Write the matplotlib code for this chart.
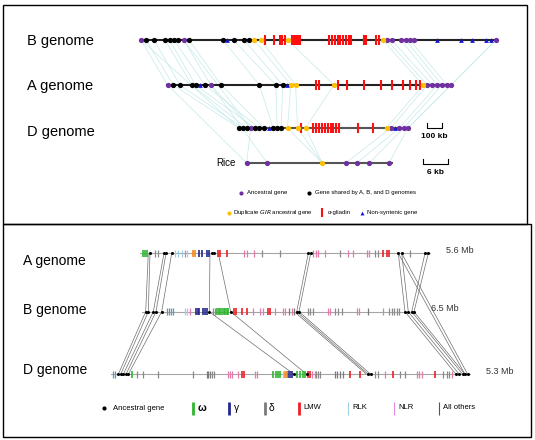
import matplotlib
matplotlib.use("Agg")
import matplotlib.pyplot as plt
from matplotlib.patches import Rectangle

plt.rcParams['font.family'] = ['Liberation Sans', 'DejaVu Sans']
NARROW = ['Liberation Sans Narrow', 'Liberation Sans', 'DejaVu Sans']

# ---------------- top panel: gene order along the three genomes + rice ----------------
# positions are read off the picture (in figure pixels along the track)
top_tracks = {
    'B': dict(y=40, span=(141, 497)),
    'A': dict(y=85, span=(167, 451)),
    'D': dict(y=128, span=(238, 408)),
    'Rice': dict(y=163, span=(246, 392)),
}

b_ancestral = [141, 183.5, 387, 391.5, 401, 405.5, 410, 414.4, 496]
b_shared = [146, 154, 165, 169.5, 174, 178.3, 189, 223, 233.5, 244, 248.5]
b_dup = [254.3, 260.5, 288, 382.5]
b_gliadin = [265, 274, 280, 282.3, 285, 291.5, 293.6, 295.8, 298, 300.3,
             329.4, 332.1, 334.9, 337.6, 340.3, 343.0, 345.7, 348.5, 351.2,
             363.5, 366.3, 376.3, 379.0]
b_nonsyn = [226.6, 437, 461, 472, 485.7, 491]

a_ancestral = [167.6, 210.9, 427.3, 432.4, 437.2, 442, 446.8, 451.3]
a_shared = [173.4, 179.9, 191.8, 195.6, 204.8, 221.2, 259.4, 275.8, 282.6]
a_dup = [290.8, 295.6, 334, 423.2]
a_gliadin = [316.1, 318.8, 337.5, 346.5, 363.8, 381.2, 392.3, 402.7, 409.8, 415.6, 419.8]
a_nonsyn = [200, 286.7]

d_ancestral = [250.6, 390.9, 399.4, 403.8, 408]
d_shared = [238.9, 243, 246.5, 254.7, 259.4, 264.2, 273.1, 277.2, 281.3]
d_dup = [287.5, 297.5, 305.5, 386.5]
d_gliadin = [301.2, 313.3, 316.2, 319.0, 321.9, 324.8, 327.7, 330.5, 333.4, 336.3, 339.2,
             357.7, 372.7]
d_nonsyn = [269, 395.3]

rice_ancestral = [246.7, 267.3, 345.7, 356.7, 369.3, 389]
rice_dup = [322.3]

# syntenic links (upper x, lower x)
links_ba = [(141, 167.6), (146, 173.4), (154, 179.9), (165, 191.8), (169.5, 195.6),
            (174, 204.8), (183.5, 210.9), (189, 221.2), (223, 259.4), (233.5, 275.8),
            (244, 282.6), (254.3, 290.8), (260.5, 295.6), (288, 334), (382.5, 423.2),
            (387, 427.3), (391.5, 432.4), (401, 437.2), (405.5, 442), (410, 446.8),
            (496, 451.3)]
links_ad = [(173.4, 238.9), (179.9, 243), (191.8, 246.5), (210.9, 250.6), (195.6, 254.7),
            (204.8, 259.4), (221.2, 264.2), (259.4, 273.1), (275.8, 277.2), (282.6, 281.3),
            (290.8, 287.5), (295.6, 297.5), (334, 305.5), (423.2, 386.5), (427.3, 390.9),
            (437.2, 399.4), (442, 403.8), (451.3, 408)]
links_bd = [(141, 238.9), (183.5, 250.6), (496, 408)]
links_drice = [(250.6, 246.7), (287.5, 322.3), (297.5, 322.3), (305.5, 322.3),
               (390.9, 345.7), (399.4, 356.7), (403.8, 369.3), (408, 389)]
links_arice = [(167.6, 246.7), (210.9, 267.3)]

# ---------------- bottom panel: gene classes along the three genomes ----------------
bot_tracks = {
    'A': dict(y=253.3, span=(140, 429.5), size='5.6 Mb'),
    'B': dict(y=311.7, span=(142, 415), size='6.5 Mb'),
    'D': dict(y=374.3, span=(111, 469.5), size='5.3 Mb'),
}

bot_genes = {
    'A': {
        'ancestral': [150, 164, 166, 171.7, 211.7, 214, 308.3, 310.7, 398.3, 401.7, 425, 428.3],
        'omega': [142.7, 145, 147.3],
        'gamma': [199, 202.3, 207.3, 209.3],
        'delta': [],
        'lmw': [218.3, 220, 226.7, 382.7, 387.3, 389.3],
        'rlk': [175, 178.3, 181.7, 187.3],
        'nlr': [184.5, 244, 246.5, 254, 313.3, 315.8, 318.3, 325, 348.3, 353.3, 366.7, 369.3],
        'other': [155, 158.3, 262, 280, 340, 375, 378.3, 410],
        'orange': [193.3, 195],
        'teal': [],
    },
    'B': {
        'ancestral': [145.7, 148.3, 153.3, 156, 161.7, 209.3, 230.7, 296.7, 299,
                      405, 408.3, 411.7, 414],
        'omega': [217.3, 218.9, 220.4, 222, 223.6, 225.1, 226.7, 228.3],
        'gamma': [196, 197.7, 199.3, 203.3, 205, 206.7],
        'delta': [289.3, 294.3, 368.3],
        'lmw': [234, 235.7, 241.7, 246.7, 268.3, 270],
        'rlk': [185, 187.3],
        'nlr': [190, 253.3, 260, 262.7, 275, 282.7, 285, 291.8, 328.3, 330, 356.7, 359.3, 383.3],
        'other': [213.3, 215, 308.3, 310, 313.3, 335, 338.3, 341.7, 389.3, 391.8, 394.3,
                  396.8, 399.3],
        'orange': [],
        'teal': [166.7, 169, 171, 173.3],
    },
    'D': {
        'ancestral': [118.3, 120.7, 123.3, 126, 128.3, 294, 306.7, 368.3, 370.7,
                      456, 459.3, 462.7, 465, 467.7],
        'omega': [131.7, 273.3, 275.7, 277.7, 280, 297.3, 300, 302.7, 305],
        'gamma': [288.3, 290, 291.7],
        'delta': [206.7, 208.3, 210, 335, 337.3, 340, 343.3],
        'lmw': [241.7, 244, 308.3, 310, 350, 360, 392.7, 435],
        'rlk': [282.7],
        'nlr': [228.3, 230, 231.7, 238.3, 255, 256.7, 312, 314.5, 385, 416.7, 419.3,
                421.7, 451.7],
        'other': [136.7, 143.3, 157.7, 192.7, 212.3, 214.3, 316, 318.3, 320, 375, 378.3,
                  400, 405, 443.3, 446.7, 449.3],
        'orange': [285, 286.7],
        'teal': [113.3, 115],
    },
}

bot_links_ab = [(148.3, 145.7), (150, 148.3), (164, 153.3), (166, 156), (171.7, 161.7),
                (210, 209.3), (218.3, 230.7), (308.3, 296.7), (310.7, 299),
                (398.3, 405), (401.7, 408.3), (425, 411.7), (428.3, 414)]
bot_links_bd = [(145.7, 118.3), (148.3, 120.7), (153.3, 123.3), (156, 126), (161.7, 128.3),
                (209.3, 294), (230.7, 306.7), (294.3, 366.5), (296.7, 368.3), (299, 370.7),
                (405, 456), (408.3, 459.3), (411.7, 462.7), (414, 465)]
bot_links_ad = [(401.7, 467.7), (398.3, 465)]

class_colors = {
    'omega': '#2fb52f', 'gamma': '#26268f', 'delta': '#7a7a7a', 'lmw': '#ee1f25',
    'rlk': '#9ccfe6', 'nlr': '#e27aaa', 'other': '#8a8a8a', 'orange': '#f28a1e',
    'teal': '#5f97b5',
}
legend_classes = ['omega', 'gamma', 'delta', 'lmw', 'rlk', 'nlr', 'other']
legend_labels = ['ω', 'γ', 'δ', 'LMW', 'RLK', 'NLR', 'All others']
legend_colors = ['#2fb52f', '#26268f', '#7a7a7a', '#ee1f25', '#9ccfe6', '#e58be0', '#555555']

PURPLE = '#7030a0'
YELLOW = '#ffc000'
RED = '#ff1010'
BLUE = '#1515d0'


def draw_links(ax, pairs, y_top, y_bot, color, lw, z=1):
    for xt, xb in pairs:
        ax.plot([xt, xb], [y_top, y_bot], color=color, lw=lw, zorder=z)


fig = plt.figure(figsize=(5.35, 4.4), dpi=100)
ax = fig.add_axes([0, 0, 1, 1])
ax.set_xlim(0, 535)
ax.set_ylim(440, 0)
ax.axis('off')

# frames
ax.add_patch(Rectangle((3, 5), 524, 219, fill=False, lw=1.0, ec='black'))
ax.add_patch(Rectangle((3, 224), 528, 213, fill=False, lw=1.0, ec='black'))

# ---- top panel ----
yB, yA, yD, yR = (top_tracks[k]['y'] for k in ['B', 'A', 'D', 'Rice'])
link_c = '#c6e9e9'
draw_links(ax, links_ba, yB, yA, link_c, 0.5)
draw_links(ax, links_ad, yA, yD, link_c, 0.5)
draw_links(ax, links_bd, yB, yD, link_c, 0.5)
draw_links(ax, links_drice, yD, yR, link_c, 0.5)
draw_links(ax, links_arice, yA, yR, link_c, 0.5)

for name, tr in top_tracks.items():
    col = '#222222' if name in ('B', 'A') else '#555555'
    ax.plot(tr['span'], [tr['y'], tr['y']], color=col, lw=1.5, zorder=2)

top_sets = [
    (yB, b_ancestral, b_shared, b_dup, b_gliadin, b_nonsyn),
    (yA, a_ancestral, a_shared, a_dup, a_gliadin, a_nonsyn),
    (yD, d_ancestral, d_shared, d_dup, d_gliadin, d_nonsyn),
    (yR, rice_ancestral, [], rice_dup, [], []),
]
for y, anc, sh, dup, gli, ns in top_sets:
    ax.vlines(gli, y - 5, y + 5, color=RED, lw=1.5, zorder=3)
    ax.plot(anc, [y] * len(anc), 'o', color=PURPLE, ms=3.8, mew=0, zorder=4)
    ax.plot(sh, [y] * len(sh), 'o', color='black', ms=3.8, mew=0, zorder=4)
    ax.plot(dup, [y] * len(dup), 'o', color=YELLOW, ms=3.8, mew=0, zorder=4)
    ax.plot(ns, [y] * len(ns), '^', color=BLUE, ms=3.4, mew=0, zorder=4)

for name, y in [('B genome', yB + 1), ('A genome', yA + 1), ('D genome', yD + 4)]:
    ax.text(27, y, name, fontsize=10.5, va='center', ha='left')
ax.text(236, yR, 'Rice', fontsize=7, va='center', ha='right', family=NARROW)

# scale bars
ax.plot([426.7, 426.7, 441.7, 441.7], [123.3, 128.3, 128.3, 123.3], color='black', lw=0.8)
ax.text(434, 137, '100 kb', fontsize=6, ha='center', va='center', family=NARROW,
        fontweight='bold')
ax.plot([423.3, 423.3, 448.3, 448.3], [159, 164.3, 164.3, 159], color='black', lw=0.8)
ax.text(435.7, 172.5, '6 kb', fontsize=6, ha='center', va='center', family=NARROW,
        fontweight='bold')

# top legend
lfs = 4.3
ax.plot([240.7], [192.7], 'o', color=PURPLE, ms=3, mew=0)
ax.text(246.7, 192.7, 'Ancestral gene', fontsize=lfs, va='center', family=NARROW)
ax.plot([309.3], [192.7], 'o', color='black', ms=3, mew=0)
ax.text(315, 192.7, 'Gene shared by A, B, and D genomes', fontsize=lfs, va='center',
        family=NARROW)
ax.plot([229.3], [212.7], 'o', color=YELLOW, ms=3, mew=0)
ax.text(233.3, 212.7, 'Duplicate $\\it{GIR}$ ancestral gene', fontsize=lfs, va='center',
        family=NARROW)
ax.vlines([321.7], 208, 217.5, color=RED, lw=1.5)
ax.text(327.7, 212.7, 'α-gliadin', fontsize=lfs, va='center', family=NARROW)
ax.plot([362.3], [212.7], '^', color=BLUE, ms=2.8, mew=0)
ax.text(366.7, 212.7, 'Non-syntenic gene', fontsize=lfs, va='center', family=NARROW)

# ---- bottom panel ----
ybA, ybB, ybD = (bot_tracks[k]['y'] for k in ['A', 'B', 'D'])
draw_links(ax, bot_links_ab, ybA, ybB, '#6e6e6e', 0.5)
draw_links(ax, bot_links_bd, ybB, ybD, '#6e6e6e', 0.5)
draw_links(ax, bot_links_ad, ybA, ybD, '#6e6e6e', 0.5)

for name, tr in bot_tracks.items():
    y = tr['y']
    ax.plot(tr['span'], [y, y], color='#a5a5a5', lw=0.8, zorder=2)
    genes = bot_genes[name]
    for cls in ['other', 'nlr', 'rlk', 'teal', 'delta', 'lmw', 'omega', 'gamma', 'orange']:
        lw = 1.2 if cls in ('omega', 'gamma', 'lmw', 'orange') else 0.9
        ax.vlines(genes[cls], y - 3.5, y + 3.5, color=class_colors[cls], lw=lw, zorder=3)
    anc = genes['ancestral']
    ax.plot(anc, [y] * len(anc), 'o', color='black', ms=2.2, mew=0, zorder=4)
    ax.text(tr['span'][1] + 16, y - 3, tr['size'], fontsize=6.5, color='#333333',
            va='center', ha='left')

ax.text(23, 261, 'A genome', fontsize=10, va='center')
ax.text(23, 310, 'B genome', fontsize=10, va='center')
ax.text(23, 370, 'D genome', fontsize=10, va='center')

# bottom legend
yl = 408.3
ax.plot([104], [yl], 'o', color='black', ms=3, mew=0)
ax.text(112.6, yl, 'Ancestral gene', fontsize=5.5, va='center')
leg_x = [192.8, 229.4, 264.5, 299.3, 348, 394.2, 438.6]
for x, cls, lab, col in zip(leg_x, legend_classes, legend_labels, legend_colors):
    lw = 2 if cls in ('omega', 'gamma', 'delta', 'lmw') else 0.8
    ax.vlines([x], yl - 6.5, yl + 6.5, color=col, lw=lw)
    fs = 7.5 if lab in ('ω', 'γ', 'δ') else 5.5
    ax.text(x + 4.5, yl - 0.5, lab, fontsize=fs, va='center',
            fontweight='bold' if lab == 'ω' else 'normal')

fig.savefig('out.png', dpi=100)
